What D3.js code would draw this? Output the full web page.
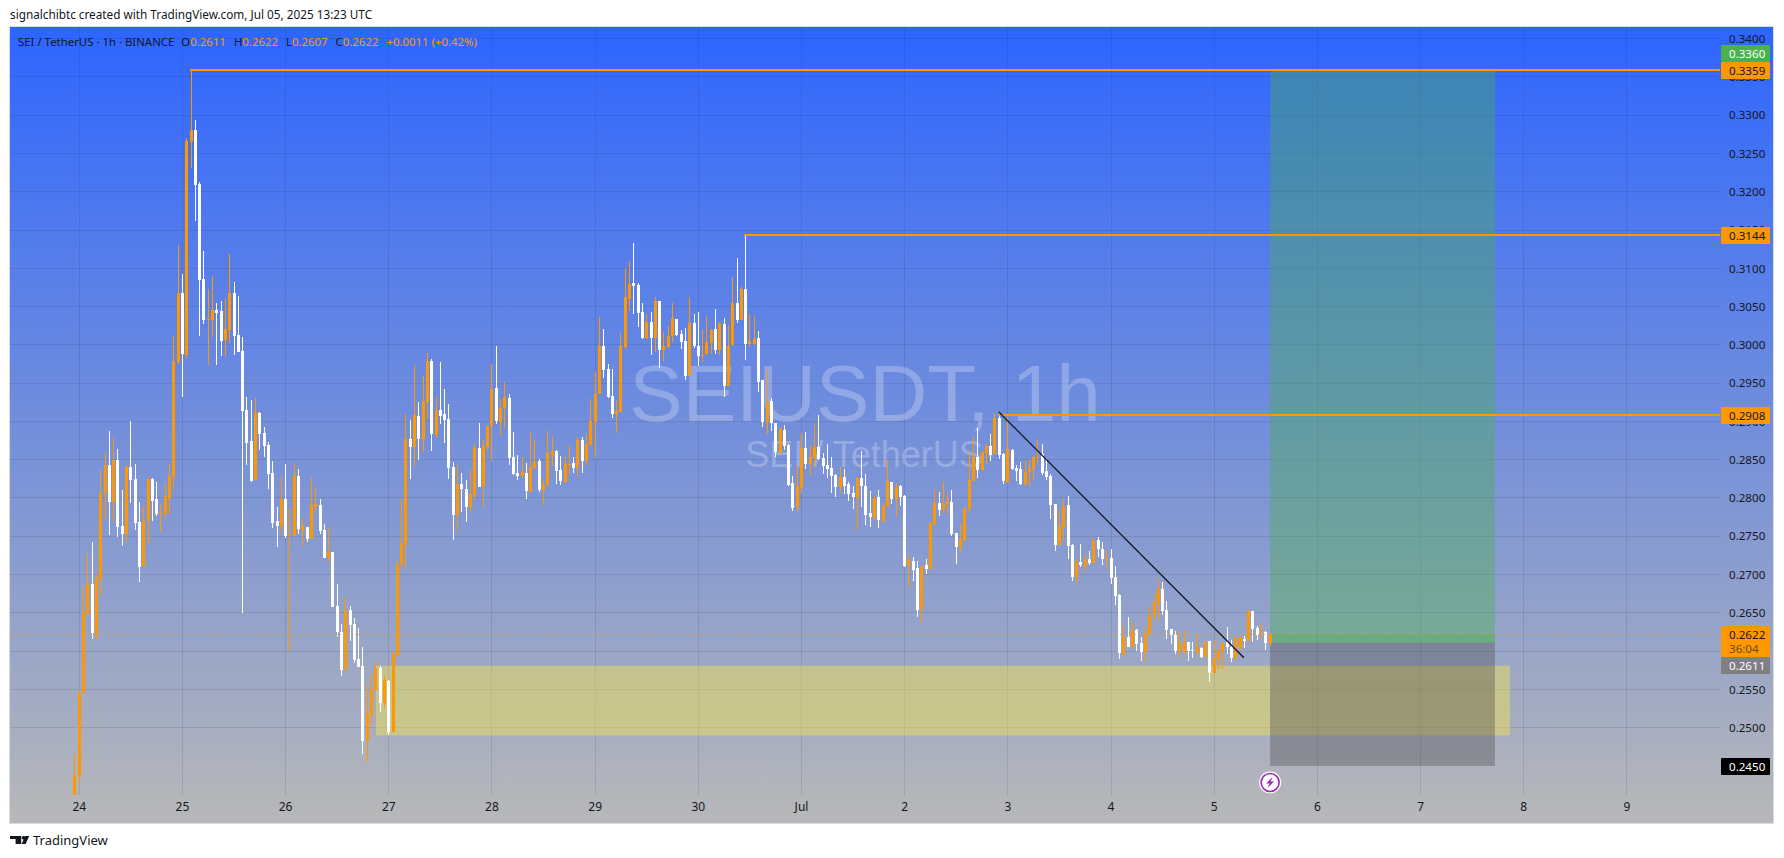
<!DOCTYPE html>
<html>
<head>
<meta charset="utf-8">
<title>SEIUSDT, 1h</title>
<script src="https://cdn.jsdelivr.net/npm/d3@7"></script>
<style>
  html, body { margin: 0; padding: 0; background: #fff; overflow: hidden; }
  text { font-family: "Noto Sans", sans-serif; }
</style>
</head>
<body>
<div id="app"></div>
<script>
'use strict'
// hourly candles, first one is 23 Jun 23:00, hours counted from 24 Jun 00:00
const firstHour = -1

const opens = [
  0.2412,0.2437,0.2545,0.2649,0.2688,0.2621,0.2694,0.2806,0.2843,0.2795,0.2850,0.2763,0.2753,0.2840,0.2825,0.2769,0.2711,0.2770,0.2825,0.2799,0.2779,0.2779,0.2800,0.2827,0.2978,
  0.3068,0.2987,0.3265,0.3281,0.3210,0.3086,0.3033,0.3033,0.3046,0.3044,0.3006,0.3020,0.3068,0.3013,0.2992,0.2915,0.2874,0.2823,0.2911,0.2885,0.2869,0.2833,0.2770,0.2763,
  0.2799,0.2750,0.2750,0.2829,0.2758,0.2762,0.2746,0.2788,0.2791,0.2758,0.2723,0.2729,0.2659,0.2625,0.2575,0.2654,0.2635,0.2590,0.2581,0.2484,0.2516,0.2549,0.2578,0.2532,
  0.2561,0.2494,0.2594,0.2714,0.2739,0.2877,0.2866,0.2907,0.2876,0.2925,0.2979,0.2882,0.2915,0.2910,0.2903,0.2840,0.2778,0.2818,0.2812,0.2788,0.2804,0.2865,0.2816,0.2866,
  0.2894,0.2944,0.2899,0.2917,0.2930,0.2853,0.2833,0.2829,0.2833,0.2808,0.2839,0.2848,0.2810,0.2817,0.2856,0.2861,0.2836,0.2821,0.2844,0.2846,0.2839,0.2876,0.2848,0.2869,
  0.2899,0.2936,0.2998,0.2968,0.2933,0.2910,0.2912,0.2997,0.3060,0.3081,0.3078,0.3043,0.3009,0.3030,0.3009,0.3058,0.2993,0.2997,0.3011,0.3034,0.3014,0.3005,0.2959,0.3028,
  0.2999,0.2986,0.2988,0.3002,0.3021,0.2993,0.3027,0.2946,0.3000,0.3055,0.3032,0.3073,0.3001,0.3001,0.3009,0.2954,0.2899,0.2927,0.2898,0.2859,0.2889,0.2869,0.2819,0.2788,
  0.2813,0.2865,0.2844,0.2852,0.2866,0.2852,0.2843,0.2839,0.2830,0.2814,0.2827,0.2818,0.2806,0.2800,0.2826,0.2816,0.2780,0.2774,0.2801,0.2770,0.2788,0.2821,0.2799,0.2816,
  0.2802,0.2711,0.2718,0.2708,0.2655,0.2712,0.2707,0.2766,0.2793,0.2785,0.2792,0.2795,0.2754,0.2736,0.2744,0.2785,0.2822,0.2853,0.2836,0.2859,0.2868,0.2857,0.2904,0.2857,
  0.2821,0.2863,0.2839,0.2838,0.2818,0.2834,0.2838,0.2853,0.2857,0.2835,0.2829,0.2792,0.2738,0.2761,0.2791,0.2738,0.2697,0.2716,0.2711,0.2720,0.2715,0.2745,0.2733,0.2720,
  0.2721,0.2697,0.2673,0.2596,0.2618,0.2605,0.2628,0.2611,0.2599,0.2622,0.2647,0.2663,0.2681,0.2654,0.2629,0.2621,0.2600,0.2599,0.2612,0.2602,0.2598,0.2604,0.2592,0.2613,
  0.2571,0.2590,0.2600,0.2612,0.2605,0.2591,0.2604,0.2616,0.2613,0.2652,0.2630,0.2622,0.2625,0.2611
]
const highs = [
  0.2466,0.2549,0.2685,0.2727,0.2742,0.2701,0.2837,0.2860,0.2887,0.2878,0.2864,0.2810,0.2843,0.2900,0.2844,0.2795,0.2790,0.2827,0.2826,0.2821,0.2792,0.2819,0.2845,0.3012,0.3131,
  0.3093,0.3270,0.3359,0.3294,0.3213,0.3123,0.3073,0.3090,0.3055,0.3057,0.3060,0.3119,0.3082,0.3064,0.3010,0.2932,0.2928,0.2931,0.2912,0.2893,0.2873,0.2848,0.2788,0.2827,
  0.2844,0.2786,0.2846,0.2838,0.2774,0.2762,0.2826,0.2814,0.2799,0.2766,0.2761,0.2729,0.2688,0.2635,0.2671,0.2659,0.2643,0.2630,0.2605,0.2554,0.2570,0.2586,0.2581,0.2567,
  0.2562,0.2599,0.2718,0.2799,0.2910,0.2902,0.2974,0.2925,0.2959,0.2989,0.2981,0.2932,0.2978,0.2942,0.2923,0.2847,0.2843,0.2833,0.2823,0.2836,0.2870,0.2898,0.2876,0.2894,
  0.2975,0.2998,0.2929,0.2951,0.2936,0.2886,0.2856,0.2853,0.2846,0.2886,0.2876,0.2851,0.2825,0.2887,0.2880,0.2863,0.2855,0.2853,0.2869,0.2853,0.2880,0.2880,0.2883,0.2929,
  0.2964,0.3036,0.3021,0.2975,0.2968,0.2927,0.3015,0.3100,0.3109,0.3133,0.3081,0.3055,0.3041,0.3043,0.3062,0.3058,0.3017,0.3025,0.3055,0.3034,0.3019,0.3022,0.3062,0.3041,
  0.3043,0.3019,0.3038,0.3021,0.3047,0.3028,0.3035,0.3026,0.3089,0.3113,0.3075,0.3144,0.3040,0.3038,0.3018,0.2954,0.2968,0.2930,0.2898,0.2893,0.2895,0.2870,0.2829,0.2842,
  0.2885,0.2886,0.2869,0.2897,0.2908,0.2859,0.2870,0.2853,0.2831,0.2840,0.2838,0.2821,0.2816,0.2827,0.2861,0.2831,0.2809,0.2802,0.2810,0.2793,0.2850,0.2821,0.2819,0.2817,
  0.2804,0.2725,0.2723,0.2718,0.2711,0.2720,0.2769,0.2812,0.2808,0.2821,0.2806,0.2810,0.2754,0.2766,0.2789,0.2860,0.2881,0.2891,0.2861,0.2870,0.2883,0.2911,0.2912,0.2859,
  0.2906,0.2864,0.2843,0.2847,0.2848,0.2851,0.2855,0.2876,0.2870,0.2852,0.2831,0.2792,0.2785,0.2800,0.2802,0.2740,0.2721,0.2740,0.2727,0.2731,0.2748,0.2749,0.2742,0.2732,
  0.2733,0.2711,0.2674,0.2634,0.2645,0.2637,0.2629,0.2618,0.2631,0.2658,0.2675,0.2694,0.2690,0.2665,0.2629,0.2626,0.2625,0.2628,0.2612,0.2612,0.2622,0.2605,0.2613,0.2613,
  0.2615,0.2601,0.2612,0.2631,0.2615,0.2618,0.2618,0.2620,0.2654,0.2652,0.2633,0.2635,0.2626,0.2622
]
const lows = [
  0.2412,0.2427,0.2545,0.2647,0.2616,0.2615,0.2673,0.2773,0.2752,0.2769,0.2749,0.2737,0.2743,0.2793,0.2758,0.2690,0.2711,0.2740,0.2770,0.2776,0.2756,0.2772,0.2779,0.2812,0.2975,
  0.2932,0.2982,0.3231,0.3162,0.3012,0.3027,0.2974,0.3010,0.2974,0.2986,0.2986,0.3003,0.2987,0.2991,0.2650,0.2843,0.2821,0.2823,0.2863,0.2854,0.2812,0.2761,0.2736,0.2754,
  0.2748,0.2600,0.2750,0.2753,0.2737,0.2743,0.2746,0.2780,0.2753,0.2722,0.2716,0.2658,0.2618,0.2567,0.2575,0.2613,0.2584,0.2579,0.2466,0.2455,0.2505,0.2549,0.2520,0.2526,
  0.2490,0.2494,0.2594,0.2709,0.2707,0.2825,0.2842,0.2849,0.2860,0.2903,0.2861,0.2878,0.2897,0.2872,0.2825,0.2745,0.2757,0.2782,0.2768,0.2782,0.2799,0.2814,0.2788,0.2863,
  0.2848,0.2897,0.2881,0.2893,0.2843,0.2830,0.2823,0.2826,0.2799,0.2808,0.2838,0.2808,0.2791,0.2817,0.2842,0.2818,0.2817,0.2819,0.2831,0.2833,0.2829,0.2833,0.2843,0.2869,
  0.2853,0.2936,0.2957,0.2930,0.2904,0.2885,0.2912,0.2994,0.3044,0.3040,0.3023,0.3008,0.3008,0.2987,0.2991,0.2970,0.2979,0.2996,0.3004,0.3011,0.2994,0.2954,0.2959,0.2996,
  0.2972,0.2978,0.2987,0.2988,0.2988,0.2987,0.2932,0.2946,0.3000,0.3028,0.3032,0.2980,0.2998,0.3000,0.2938,0.2893,0.2883,0.2887,0.2853,0.2857,0.2863,0.2816,0.2783,0.2782,
  0.2806,0.2838,0.2830,0.2840,0.2850,0.2831,0.2826,0.2806,0.2801,0.2806,0.2805,0.2796,0.2785,0.2758,0.2788,0.2765,0.2762,0.2771,0.2761,0.2767,0.2788,0.2792,0.2775,0.2789,
  0.2710,0.2682,0.2691,0.2644,0.2637,0.2701,0.2707,0.2765,0.2776,0.2780,0.2779,0.2750,0.2714,0.2729,0.2744,0.2780,0.2822,0.2826,0.2835,0.2844,0.2848,0.2857,0.2851,0.2818,
  0.2819,0.2836,0.2822,0.2817,0.2816,0.2816,0.2822,0.2846,0.2830,0.2823,0.2772,0.2731,0.2737,0.2745,0.2720,0.2691,0.2686,0.2710,0.2703,0.2712,0.2715,0.2723,0.2712,0.2708,
  0.2688,0.2660,0.2590,0.2593,0.2605,0.2605,0.2600,0.2587,0.2586,0.2621,0.2641,0.2641,0.2647,0.2616,0.2609,0.2596,0.2591,0.2595,0.2587,0.2591,0.2596,0.2591,0.2592,0.2560,
  0.2571,0.2577,0.2577,0.2596,0.2586,0.2587,0.2601,0.2604,0.2613,0.2612,0.2615,0.2617,0.2601,0.2607
]
const closes = [
  0.2438,0.2545,0.2651,0.2688,0.2623,0.2696,0.2807,0.2843,0.2795,0.2850,0.2762,0.2753,0.2840,0.2823,0.2767,0.2710,0.2770,0.2825,0.2796,0.2779,0.2780,0.2803,0.2829,0.2979,0.3068,
  0.2988,0.3266,0.3281,0.3209,0.3085,0.3033,0.3034,0.3046,0.3042,0.3005,0.3021,0.3068,0.3012,0.2991,0.2914,0.2872,0.2822,0.2912,0.2884,0.2868,0.2831,0.2767,0.2763,0.2799,
  0.2750,0.2752,0.2829,0.2759,0.2763,0.2746,0.2791,0.2792,0.2757,0.2722,0.2729,0.2658,0.2625,0.2575,0.2654,0.2634,0.2588,0.2579,0.2483,0.2519,0.2550,0.2578,0.2532,0.2562,
  0.2494,0.2596,0.2714,0.2741,0.2877,0.2866,0.2908,0.2877,0.2927,0.2979,0.2883,0.2915,0.2907,0.2902,0.2839,0.2778,0.2818,0.2812,0.2788,0.2805,0.2865,0.2814,0.2868,0.2894,
  0.2942,0.2900,0.2917,0.2932,0.2852,0.2831,0.2829,0.2834,0.2809,0.2840,0.2847,0.2810,0.2817,0.2859,0.2861,0.2835,0.2822,0.2844,0.2845,0.2839,0.2876,0.2848,0.2870,0.2900,
  0.2936,0.2998,0.2967,0.2932,0.2910,0.2914,0.2999,0.3062,0.3079,0.3077,0.3042,0.3009,0.3030,0.3009,0.3058,0.2993,0.2998,0.3011,0.3035,0.3013,0.3004,0.2959,0.3028,0.2998,
  0.2985,0.2987,0.3004,0.3019,0.2993,0.3028,0.2946,0.2999,0.3055,0.3032,0.3073,0.3001,0.3005,0.3008,0.2951,0.2899,0.2926,0.2898,0.2860,0.2890,0.2868,0.2817,0.2787,0.2816,
  0.2865,0.2844,0.2853,0.2866,0.2851,0.2842,0.2838,0.2829,0.2814,0.2827,0.2816,0.2805,0.2801,0.2826,0.2816,0.2778,0.2775,0.2800,0.2771,0.2789,0.2822,0.2799,0.2814,0.2801,
  0.2711,0.2719,0.2706,0.2654,0.2711,0.2707,0.2767,0.2793,0.2784,0.2792,0.2796,0.2753,0.2736,0.2745,0.2785,0.2823,0.2853,0.2836,0.2860,0.2868,0.2856,0.2904,0.2856,0.2822,
  0.2864,0.2838,0.2835,0.2818,0.2834,0.2839,0.2853,0.2854,0.2833,0.2827,0.2791,0.2738,0.2763,0.2789,0.2737,0.2697,0.2716,0.2712,0.2720,0.2715,0.2744,0.2733,0.2720,0.2721,
  0.2695,0.2672,0.2597,0.2618,0.2605,0.2628,0.2609,0.2599,0.2623,0.2647,0.2664,0.2681,0.2652,0.2628,0.2621,0.2600,0.2611,0.2612,0.2600,0.2601,0.2605,0.2592,0.2612,0.2571,
  0.2591,0.2601,0.2611,0.2605,0.2591,0.2617,0.2618,0.2613,0.2652,0.2629,0.2621,0.2623,0.2611,0.2622
]

// axis
const priceTicks = d3.range(0.25, 0.3401, 0.005)
const dayTicks = [0, 24, 48, 72, 96, 120, 144, 168, 192, 216, 240, 264, 288, 312, 336, 360]
const dayLabels = ['24', '25', '26', '27', '28', '29', '30', 'Jul', '2', '3', '4', '5', '6', '7', '8', '9']

// drawings on the chart, [start hour, price]
const resistanceLevels = [[26, 0.3359], [155, 0.3144], [214, 0.2908]]
const trendLine = [[213.9, 0.29124], [270.9, 0.25914]]
const supportZone = { hours: [69, 332.8], prices: [0.2581, 0.2490] }
const positionHours = [277, 329.3]
const targetPrice = 0.3359
const entryPrice = 0.2611
const stopPrice = 0.2450
const lastPrice = 0.2622

// price labels on the axis
const priceBadges = [
  { price: 0.3360, text: '0.3360', fill: '#4caf50', color: '#fff', top: 45, h: 17 },
  { price: 0.3359, text: '0.3359', fill: '#ff9800', color: '#131722', top: 62, h: 17 },
  { price: 0.3144, text: '0.3144', fill: '#ff9800', color: '#131722', top: 227, h: 17 },
  { price: 0.2908, text: '0.2908', fill: '#ff9800', color: '#131722', top: 407, h: 17 },
  { price: 0.2611, text: '0.2611', fill: '#808080', color: '#fff', top: 657, h: 17 },
  { price: 0.2450, text: '0.2450', fill: '#000', color: '#fff', top: 758, h: 17 }
]

const legendParts = [
  ['SEI / TetherUS · 1h · BINANCE', '#131722', 0],
  ['O', '#131722', 7], ['0.2611', '#ff9800', 0],
  ['H', '#131722', 8], ['0.2622', '#ff9800', 0],
  ['L', '#131722', 8], ['0.2607', '#ff9800', 0],
  ['C', '#131722', 8], ['0.2622', '#ff9800', 0],
  ['+0.0011 (+0.42%)', '#ff9800', 8]
]

const width = 1784
const height = 858
const plot = { left: 10, right: 1720, top: 27, bottom: 795, frameRight: 1773, frameBottom: 823 }
const labelFont = '"Noto Sans", sans-serif'

const x = d3.scaleLinear().domain([0, 24]).range([79.25, 182.43])
const y = d3.scaleLinear().domain([0.34, 0.33]).range([38.7, 115.25])
const px = h => Math.floor(x(h))

const svg = d3.select('#app').append('svg')
  .attr('width', width)
  .attr('height', height)
  .style('display', 'block')

const gradient = svg.append('defs').append('linearGradient')
  .attr('id', 'bg')
  .attr('x1', 0).attr('x2', 0).attr('y1', 0).attr('y2', 1)
gradient.append('stop').attr('offset', '0%').attr('stop-color', '#2d65ff')
gradient.append('stop').attr('offset', '100%').attr('stop-color', '#b8b8b8')

svg.append('rect')
  .attr('x', plot.left).attr('y', plot.top)
  .attr('width', plot.frameRight - plot.left).attr('height', plot.frameBottom - plot.top)
  .attr('fill', 'url(#bg)')

// grid
svg.append('g').selectAll('line')
  .data(priceTicks)
  .enter().append('line')
  .attr('x1', plot.left).attr('x2', plot.right)
  .attr('y1', d => Math.floor(y(d)) + 0.5).attr('y2', d => Math.floor(y(d)) + 0.5)
  .attr('stroke', 'rgba(30,40,70,0.13)')

svg.append('g').selectAll('line')
  .data(dayTicks)
  .enter().append('line')
  .attr('x1', d => px(d) + 0.5).attr('x2', d => px(d) + 0.5)
  .attr('y1', plot.top).attr('y2', plot.bottom)
  .attr('stroke', 'rgba(30,40,70,0.13)')

// watermark
svg.append('text')
  .attr('x', 865).attr('y', 421)
  .attr('text-anchor', 'middle')
  .attr('fill', 'rgba(255,255,255,0.25)')
  .style('font-family', '"Liberation Sans", sans-serif')
  .style('font-size', '80px')
  .text('SEIUSDT, 1h')

svg.append('text')
  .attr('x', 864).attr('y', 467)
  .attr('text-anchor', 'middle')
  .attr('fill', 'rgba(255,255,255,0.25)')
  .style('font-family', '"Liberation Sans", sans-serif')
  .style('font-size', '36px')
  .text('SEI / TetherUS')

// demand zone
svg.append('rect')
  .attr('x', x(supportZone.hours[0])).attr('width', x(supportZone.hours[1]) - x(supportZone.hours[0]))
  .attr('y', y(supportZone.prices[0])).attr('height', y(supportZone.prices[1]) - y(supportZone.prices[0]))
  .attr('fill', 'rgba(255,235,59,0.4)')

// long position tool
const posX = x(positionHours[0])
const posW = x(positionHours[1]) - posX
svg.append('rect')
  .attr('x', posX).attr('width', posW)
  .attr('y', y(targetPrice)).attr('height', y(entryPrice) - y(targetPrice))
  .attr('fill', 'rgba(76,175,80,0.4)')
svg.append('rect')
  .attr('x', posX).attr('width', posW)
  .attr('y', y(lastPrice)).attr('height', y(entryPrice) - y(lastPrice))
  .attr('fill', 'rgba(76,175,80,0.3)')
svg.append('rect')
  .attr('x', posX).attr('width', posW)
  .attr('y', y(entryPrice)).attr('height', y(stopPrice) - y(entryPrice))
  .attr('fill', 'rgba(80,80,80,0.38)')

// candles
const candles = opens.map((o, i) => ({ hour: firstHour + i, o, h: highs[i], l: lows[i], c: closes[i] }))
const candleColor = d => d.c >= d.o ? '#ff9800' : '#ffffff'

const candle = svg.append('g').selectAll('g')
  .data(candles)
  .enter().append('g')

candle.append('rect')
  .attr('x', d => px(d.hour))
  .attr('width', 1)
  .attr('y', d => Math.round(y(d.h)))
  .attr('height', d => Math.max(1, Math.round(y(d.l)) - Math.round(y(d.h))))
  .attr('fill', candleColor)

candle.append('rect')
  .attr('x', d => px(d.hour) - 1)
  .attr('width', 3)
  .attr('y', d => Math.round(y(Math.max(d.o, d.c))))
  .attr('height', d => Math.max(1, Math.round(y(Math.min(d.o, d.c))) - Math.round(y(Math.max(d.o, d.c)))))
  .attr('fill', candleColor)

// current price
svg.append('line')
  .attr('x1', plot.left).attr('x2', plot.right)
  .attr('y1', Math.round(y(lastPrice)) + 0.5).attr('y2', Math.round(y(lastPrice)) + 0.5)
  .attr('stroke', '#ff9800')
  .attr('stroke-opacity', 0.75)
  .attr('stroke-dasharray', '1 2')

// resistance lines
svg.append('g').selectAll('line')
  .data(resistanceLevels)
  .enter().append('line')
  .attr('x1', d => px(d[0]) - 1).attr('x2', plot.right)
  .attr('y1', d => Math.round(y(d[1]))).attr('y2', d => Math.round(y(d[1])))
  .attr('stroke', '#ff9800')
  .attr('stroke-width', 2)

// down trend
svg.append('line')
  .attr('x1', x(trendLine[0][0])).attr('y1', y(trendLine[0][1]))
  .attr('x2', x(trendLine[1][0])).attr('y2', y(trendLine[1][1]))
  .attr('stroke', '#131722')
  .attr('stroke-width', 1.3)

// price axis
const priceAxis = d3.axisRight(y)
  .tickValues(priceTicks)
  .tickSize(0)
  .tickPadding(0)
  .tickFormat(d3.format('.4f'))

const priceG = svg.append('g')
  .attr('transform', `translate(${plot.right + 9},0)`)
  .call(priceAxis)
priceG.select('.domain').remove()
priceG.selectAll('text')
  .style('font-family', labelFont)
  .style('font-size', '11.6px')
  .attr('fill', '#131722')

// time axis
const timeAxis = d3.axisBottom(x)
  .offset(0)
  .tickValues(dayTicks)
  .tickSize(0)
  .tickPadding(0)
  .tickFormat((d, i) => dayLabels[i])

const timeG = svg.append('g')
  .attr('transform', `translate(0,${plot.bottom + 7})`)
  .call(timeAxis)
timeG.select('.domain').remove()
timeG.selectAll('text')
  .style('font-family', labelFont)
  .style('font-size', '12px')
  .attr('fill', '#131722')

// badges over the axis
const badge = svg.append('g').selectAll('g')
  .data(priceBadges)
  .enter().append('g')
badge.append('rect')
  .attr('x', plot.right + 1).attr('width', 49)
  .attr('y', d => d.top).attr('height', d => d.h)
  .attr('rx', 1)
  .attr('fill', d => d.fill)
badge.append('text')
  .attr('x', plot.right + 9).attr('y', d => d.top + 13)
  .style('font-family', labelFont)
  .style('font-size', '11.6px')
  .attr('fill', d => d.color)
  .text(d => d.text)

// last price badge with countdown
svg.append('rect')
  .attr('x', plot.right + 1).attr('width', 49)
  .attr('y', 626).attr('height', 31)
  .attr('rx', 1)
  .attr('fill', '#ff9800')
svg.append('text')
  .attr('x', plot.right + 9).attr('y', 639)
  .style('font-family', labelFont).style('font-size', '11.6px')
  .attr('fill', '#131722')
  .text('0.2622')
svg.append('text')
  .attr('x', plot.right + 9).attr('y', 653)
  .style('font-family', labelFont).style('font-size', '11.6px')
  .attr('fill', '#6b4a10')
  .text('36:04')

// alert icon on the time axis
const icon = svg.append('g').attr('transform', `translate(${x(277)},782.5)`)
icon.append('circle').attr('r', 11).attr('fill', '#fff')
icon.append('circle').attr('r', 9).attr('fill', 'none').attr('stroke', '#9c27b0').attr('stroke-width', 1.6)
icon.append('path')
  .attr('d', 'M2.5,-5.5 L-4,1 L-0.5,1 L-2.5,5.5 L4,-1 L0.5,-1 Z')
  .attr('fill', '#9c27b0')

// frame
svg.append('rect')
  .attr('x', plot.left - 0.5).attr('y', plot.top - 0.5)
  .attr('width', plot.frameRight - plot.left + 1).attr('height', plot.frameBottom - plot.top + 1)
  .attr('fill', 'none')
  .attr('stroke', '#d6dce8')

// header
svg.append('text')
  .attr('x', 10).attr('y', 19)
  .style('font-family', labelFont).style('font-size', '11.75px')
  .attr('fill', '#131722')
  .text('signalchibtc created with TradingView.com, Jul 05, 2025 13:23 UTC')

// legend
const legend = svg.append('text')
  .attr('x', 18).attr('y', 46)
  .style('font-family', labelFont).style('font-size', '11.4px')
legend.selectAll('tspan')
  .data(legendParts)
  .enter().append('tspan')
  .attr('dx', d => d[2])
  .attr('fill', d => d[1])
  .text(d => d[0])

// footer logo
const logo = svg.append('g').attr('transform', 'translate(10,836) scale(0.8,0.73)')
logo.append('path').attr('d', 'M0,0 H14 V11 H7 V4 H0 Z').attr('fill', '#131722')
logo.append('circle').attr('cx', 17).attr('cy', 2.5).attr('r', 2.5).attr('fill', '#131722')
logo.append('path').attr('d', 'M24,0 H19 L14.5,11 H19.5 Z').attr('fill', '#131722')
svg.append('text')
  .attr('x', 33).attr('y', 845)
  .style('font-family', labelFont).style('font-size', '13px')
  .attr('fill', '#131722')
  .text('TradingView')
</script>
</body>
</html>
